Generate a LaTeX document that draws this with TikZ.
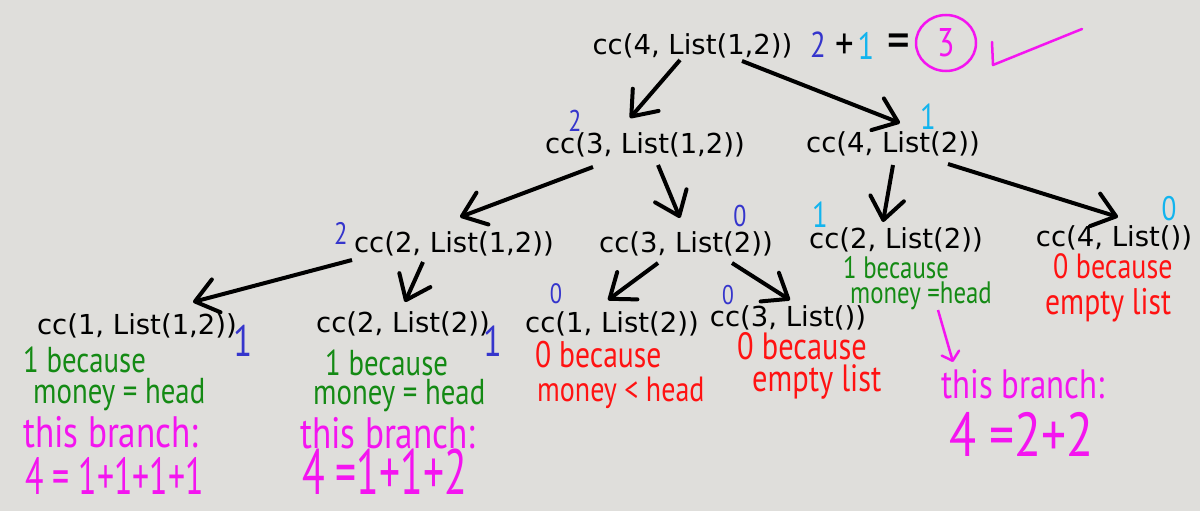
\documentclass[tikz,border=0pt]{standalone}
\usepackage{fontspec}
\setmainfont{DejaVu Sans}
\newfontfamily\handfont[FakeStretch=0.8]{PT Sans}
\newfontfamily\sumfont[FakeStretch=0.65]{PT Sans}
\usetikzlibrary{arrows.meta,calc,shapes.geometric}
\definecolor{board}{HTML}{DFDEDB}
\definecolor{cntblue}{HTML}{3535CC}
\definecolor{cntcyan}{HTML}{12B4EE}
\definecolor{pink}{HTML}{F414F0}
\definecolor{okgreen}{HTML}{148A14}
\definecolor{nored}{HTML}{FF1212}

\begin{document}
\begin{tikzpicture}[x=1pt,y=-1pt]
    \tikzstyle{call}=[inner sep=0pt, font=\fontsize{27.5}{33}\selectfont]
    \tikzstyle{arr}=[line width=4pt, -{Straight Barb[length=22pt,width=34pt,round]}]
    \tikzset{hand/.style={inner sep=0pt, anchor=base west, font=\handfont\fontsize{#1}{#1}\selectfont},
             sum/.style={inner sep=0pt, anchor=base west, text=pink, font=\sumfont\fontsize{#1}{#1}\selectfont}}

    \fill[board] (0,0) rectangle (1200,511);
    \useasboundingbox (0,0) rectangle (1200,511);

    % the calls
    \node[call] (c4a) at (692.5,46) {cc(4, List(1,2))};
    \node[call] (c3a) at (645,145) {cc(3, List(1,2))};
    \node[call] (c4b) at (893,144) {cc(4, List(2))};
    \node[call] (c2a) at (454,244) {cc(2, List(1,2))};
    \node[call] (c3b) at (686,244) {cc(3, List(2))};
    \node[call] (c2b) at (896,240) {cc(2, List(2))};
    \node[call] (c4c) at (1114,238) {cc(4, List())};
    \node[call] (c1a) at (137,326) {cc(1, List(1,2))};
    \node[call] (c2c) at (403,324) {cc(2, List(2))};
    \node[call] (c1b) at (612,324) {cc(1, List(2))};
    \node[call] (c3c) at (788,318) {cc(3, List())};

    \foreach \a/\ax/\ay/\b/\bx/\by in {
        c4a/-12.5/14/c3a/-15/-27, c4a/49.5/15/c4b/7/-21,
        c3a/-52/22/c2a/6/-27, c3a/13/20/c3b/-6/-26,
        c4b/0/21/c2b/-13/-18, c4b/55/20/c4c/4/-21,
        c2a/-102/16/c1a/56/-24, c2a/-31/18/c2c/2/-22,
        c3b/-28/19/c1b/-4/-24, c3b/46/19/c3c/2/-18} {
        \draw[arr] ($(\a)+(\ax,\ay)$) -- ($(\b)+(\bx,\by)$);
    }

    % counts
    \foreach \n/\x/\y/\c/\t/\s in {1/575/121/cntblue/2/30, 2/928/117/cntcyan/1/36,
        3/341/233/cntblue/2/31, 4/740/216/cntblue/0/30, 5/820/215/cntcyan/1/36,
        6/1169/209/cntcyan/0/34, 7/243/341/cntblue/1/44, 8/493/341/cntblue/1/43,
        9/556/294/cntblue/0/28, 10/728/295/cntblue/0/27} {
        \node[hand=\s, anchor=center, text=\c] (cnt\n) at (\x,\y) {\t};
    }

    % 2+1=3
    \node[hand=36, anchor=center, text=cntblue] (eqtwo) at (818,45) {2};
    \node[hand=46, anchor=center] (eqplus) at (845,47) {+};
    \node[hand=38, anchor=center, text=cntcyan] (eqone) at (866,46) {1};
    \node[hand=56, anchor=center] (eqsign) at (899,47) {=};
    \node[hand=40, anchor=center, text=pink, draw=pink, ellipse, line width=2.5pt,
          minimum width=60pt, minimum height=56pt] (eqsum) at (946,43) {3};
    \draw[pink, line width=2.5pt, line cap=round, line join=round]
        (992,42) -- (993,65) -- (1082,29);

    % green notes
    \node[hand=36, text=okgreen] (g1a) at (23,372) {1 because};
    \node[hand=36, text=okgreen] (g1b) at (33,403) {money = head};
    \node[hand=36, text=okgreen] (g2a) at (325,375) {1 because};
    \node[hand=36, text=okgreen] (g2b) at (313,404) {money = head};
    \node[hand=31, text=okgreen] (g3a) at (843,278) {1 because};
    \node[hand=31, text=okgreen] (g3b) at (850,303) {money =head};

    % red notes
    \node[hand=37, text=nored] (r1a) at (535,367) {0 because};
    \node[hand=35, text=nored] (r1b) at (537,401) {money < head};
    \node[hand=38, text=nored] (r2a) at (737,359) {0 because};
    \node[hand=38, text=nored] (r2b) at (752,391) {empty list};
    \node[hand=35, text=nored] (r3a) at (1053,278) {0 because};
    \node[hand=37, text=nored] (r3b) at (1045,314) {empty list};

    % branches
    \node[hand=44, text=pink] (b1a) at (23,447) {this branch:};
    \node[sum=52] (b1b) at (25,494) {4 = 1+1+1+1};
    \node[hand=44, text=pink] (b2a) at (300,448) {this branch:};
    \node[sum=64] (b2b) at (302,494) {4 =1+1+2};
    \node[hand=41, text=pink] (b3a) at (941,398) {this branch:};
    \node[hand=62, text=pink] (b3b) at (949,456) {4 =2+2};

    \draw[pink, line width=2.5pt, -{Straight Barb[length=8pt,width=18pt,round]}]
        ($(g3b.base west)+(88,7)$) -- ($(b3a.base west)+(12,-36)$);
\end{tikzpicture}
\end{document}
